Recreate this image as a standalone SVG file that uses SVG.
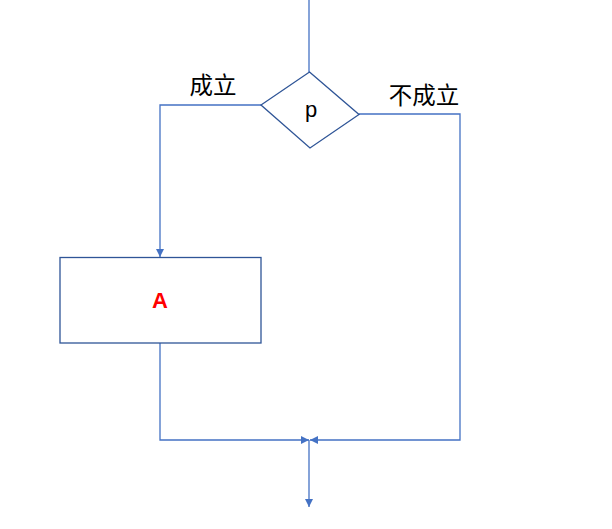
<svg xmlns="http://www.w3.org/2000/svg" width="612" height="529" viewBox="0 0 612 529">
<style>
.shape{fill:#fff;stroke:#2F5597;stroke-width:1.3}
.conn{fill:none;stroke:#4472C4;stroke-width:1.3}
.lbl{font-family:"Liberation Sans","Noto Sans CJK SC",sans-serif;font-size:23.5px;fill:#000}
</style>
<defs>
<marker id="ah" viewBox="0 0 10 10" refX="10" refY="5" markerWidth="8" markerHeight="8" markerUnits="userSpaceOnUse" orient="auto">
<path d="M0,0 L10,5 L0,10 z" fill="#4472C4"/>
</marker>
</defs>
<rect width="612" height="529" fill="#fff"/>
<g id="connectors">
<path class="conn" d="M309,0 L309,72"/>
<path class="conn" d="M261,105 L160,105 L160,257" marker-end="url(#ah)"/>
<path class="conn" d="M359,114 L460,114 L460,440 L310,440" marker-end="url(#ah)"/>
<path class="conn" d="M160,343 L160,440 L309,440" marker-end="url(#ah)"/>
<path class="conn" d="M309,440 L309,507" marker-end="url(#ah)"/>
</g>
<g id="decision">
<polygon class="shape" points="309.5,72 359,114.5 310,148 261,105"/>
<text class="lbl" x="311" y="117" text-anchor="middle" style="font-size:22px">p</text>
</g>
<g id="label-yes"><text class="lbl" x="213" y="94" text-anchor="middle">成立</text></g>
<g id="label-no"><text class="lbl" x="424" y="104" text-anchor="middle">不成立</text></g>
<g id="process">
<rect class="shape" x="60" y="257.5" width="201" height="85.5"/>
<text x="160" y="308" text-anchor="middle" font-family="Liberation Sans,sans-serif" font-size="22" font-weight="bold" fill="#FF0000">A</text>
</g>
</svg>
